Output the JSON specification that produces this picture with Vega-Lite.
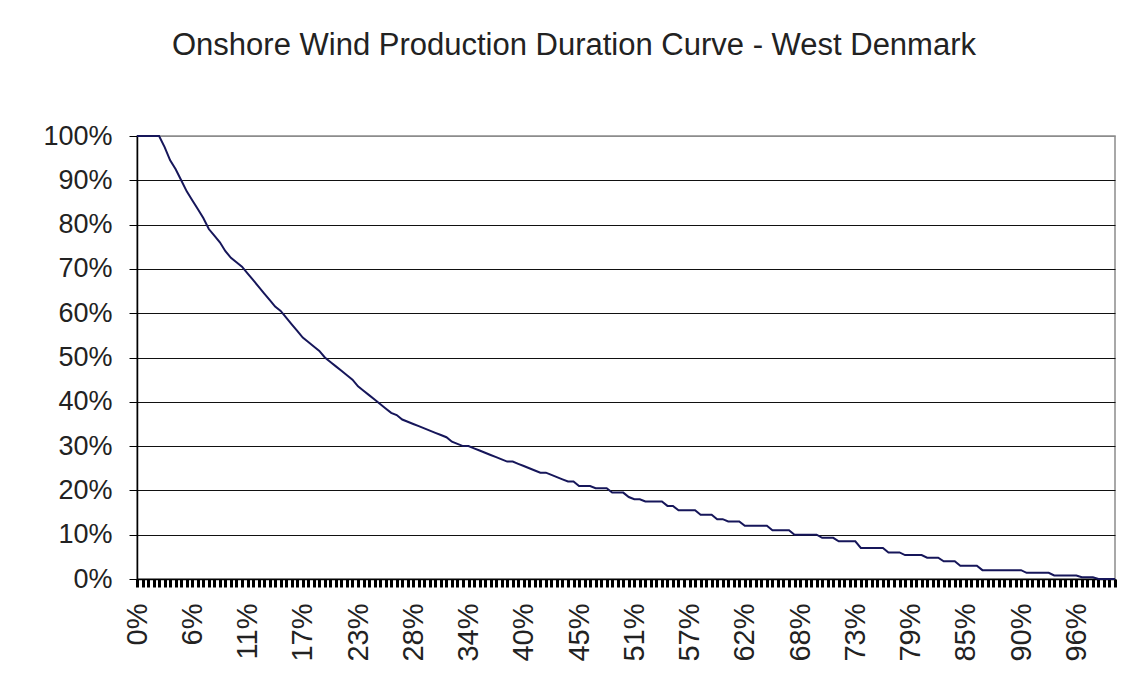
{
  "$schema": "https://vega.github.io/schema/vega-lite/v6.json",
  "width": 978,
  "height": 443,
  "autosize": {"type": "none"},
  "padding": {"left": 137, "top": 136, "right": 21, "bottom": 118},
  "background": "white",
  "title": {
    "text": "Onshore Wind Production Duration Curve - West Denmark",
    "font": "Liberation Sans",
    "fontSize": 31,
    "fontWeight": "normal",
    "color": "#222222",
    "anchor": "middle",
    "frame": "group",
    "baseline": "middle",
    "offset": 45,
    "dx": -52
  },
  "config": {
    "view": {"stroke": "#8c8c8c", "strokeWidth": 1.5},
    "axis": {"labelFont": "Liberation Sans", "labelColor": "#222222"}
  },
  "data": {"values": [
    {"x": 0, "y": 100}, {"x": 0.57, "y": 100}, {"x": 1.13, "y": 100}, {"x": 1.70, "y": 100}, {"x": 2.26, "y": 100},
    {"x": 2.83, "y": 97.5}, {"x": 3.39, "y": 94.5}, {"x": 3.96, "y": 92.5}, {"x": 4.52, "y": 90}, {"x": 5.09, "y": 87.5},
    {"x": 5.65, "y": 85.5}, {"x": 6.22, "y": 83.5}, {"x": 6.78, "y": 81.5}, {"x": 7.35, "y": 79}, {"x": 7.91, "y": 77.5},
    {"x": 8.48, "y": 76}, {"x": 9.04, "y": 74}, {"x": 9.61, "y": 72.5}, {"x": 10.17, "y": 71.5}, {"x": 10.74, "y": 70.5},
    {"x": 11.30, "y": 69}, {"x": 11.87, "y": 67.5}, {"x": 12.43, "y": 66}, {"x": 13.00, "y": 64.5}, {"x": 13.56, "y": 63},
    {"x": 14.13, "y": 61.5}, {"x": 14.70, "y": 60.5}, {"x": 15.26, "y": 59}, {"x": 15.83, "y": 57.5}, {"x": 16.39, "y": 56},
    {"x": 16.96, "y": 54.5}, {"x": 17.52, "y": 53.5}, {"x": 18.09, "y": 52.5}, {"x": 18.65, "y": 51.5}, {"x": 19.22, "y": 50},
    {"x": 19.78, "y": 49}, {"x": 20.35, "y": 48}, {"x": 20.91, "y": 47}, {"x": 21.48, "y": 46}, {"x": 22.04, "y": 45},
    {"x": 22.61, "y": 43.5}, {"x": 23.17, "y": 42.5}, {"x": 23.74, "y": 41.5}, {"x": 24.30, "y": 40.5}, {"x": 24.87, "y": 39.5},
    {"x": 25.43, "y": 38.5}, {"x": 26.00, "y": 37.5}, {"x": 26.56, "y": 37}, {"x": 27.13, "y": 36}, {"x": 27.69, "y": 35.5},
    {"x": 28.26, "y": 35}, {"x": 28.83, "y": 34.5}, {"x": 29.39, "y": 34}, {"x": 29.96, "y": 33.5}, {"x": 30.52, "y": 33},
    {"x": 31.09, "y": 32.5}, {"x": 31.65, "y": 32}, {"x": 32.22, "y": 31}, {"x": 32.78, "y": 30.5}, {"x": 33.35, "y": 30},
    {"x": 33.91, "y": 30}, {"x": 34.48, "y": 29.5}, {"x": 35.04, "y": 29}, {"x": 35.61, "y": 28.5}, {"x": 36.17, "y": 28},
    {"x": 36.74, "y": 27.5}, {"x": 37.30, "y": 27}, {"x": 37.87, "y": 26.5}, {"x": 38.43, "y": 26.5}, {"x": 39.00, "y": 26},
    {"x": 39.56, "y": 25.5}, {"x": 40.13, "y": 25}, {"x": 40.69, "y": 24.5}, {"x": 41.26, "y": 24}, {"x": 41.82, "y": 24},
    {"x": 42.39, "y": 23.5}, {"x": 42.96, "y": 23}, {"x": 43.52, "y": 22.5}, {"x": 44.09, "y": 22}, {"x": 44.65, "y": 22},
    {"x": 45.22, "y": 21}, {"x": 45.78, "y": 21}, {"x": 46.35, "y": 21}, {"x": 46.91, "y": 20.5}, {"x": 47.48, "y": 20.5},
    {"x": 48.04, "y": 20.5}, {"x": 48.61, "y": 19.5}, {"x": 49.17, "y": 19.5}, {"x": 49.74, "y": 19.5}, {"x": 50.30, "y": 18.5},
    {"x": 50.87, "y": 18}, {"x": 51.43, "y": 18}, {"x": 52.00, "y": 17.5}, {"x": 52.56, "y": 17.5}, {"x": 53.13, "y": 17.5},
    {"x": 53.69, "y": 17.5}, {"x": 54.26, "y": 16.5}, {"x": 54.82, "y": 16.5}, {"x": 55.39, "y": 15.5}, {"x": 55.95, "y": 15.5},
    {"x": 56.52, "y": 15.5}, {"x": 57.09, "y": 15.5}, {"x": 57.65, "y": 14.5}, {"x": 58.22, "y": 14.5}, {"x": 58.78, "y": 14.5},
    {"x": 59.35, "y": 13.5}, {"x": 59.91, "y": 13.5}, {"x": 60.48, "y": 13}, {"x": 61.04, "y": 13}, {"x": 61.61, "y": 13},
    {"x": 62.17, "y": 12}, {"x": 62.74, "y": 12}, {"x": 63.30, "y": 12}, {"x": 63.87, "y": 12}, {"x": 64.43, "y": 12},
    {"x": 65.00, "y": 11}, {"x": 65.56, "y": 11}, {"x": 66.13, "y": 11}, {"x": 66.69, "y": 11}, {"x": 67.26, "y": 10},
    {"x": 67.82, "y": 10}, {"x": 68.39, "y": 10}, {"x": 68.95, "y": 10}, {"x": 69.52, "y": 10}, {"x": 70.08, "y": 9.3},
    {"x": 70.65, "y": 9.3}, {"x": 71.22, "y": 9.3}, {"x": 71.78, "y": 8.5}, {"x": 72.35, "y": 8.5}, {"x": 72.91, "y": 8.5},
    {"x": 73.48, "y": 8.5}, {"x": 74.04, "y": 7}, {"x": 74.61, "y": 7}, {"x": 75.17, "y": 7}, {"x": 75.74, "y": 7},
    {"x": 76.30, "y": 7}, {"x": 76.87, "y": 6}, {"x": 77.43, "y": 6}, {"x": 78.00, "y": 6}, {"x": 78.56, "y": 5.4},
    {"x": 79.13, "y": 5.4}, {"x": 79.69, "y": 5.4}, {"x": 80.26, "y": 5.4}, {"x": 80.82, "y": 4.8}, {"x": 81.39, "y": 4.8},
    {"x": 81.95, "y": 4.8}, {"x": 82.52, "y": 4}, {"x": 83.08, "y": 4}, {"x": 83.65, "y": 4}, {"x": 84.21, "y": 3},
    {"x": 84.78, "y": 3}, {"x": 85.35, "y": 3}, {"x": 85.91, "y": 3}, {"x": 86.48, "y": 2}, {"x": 87.04, "y": 2},
    {"x": 87.61, "y": 2}, {"x": 88.17, "y": 2}, {"x": 88.74, "y": 2}, {"x": 89.30, "y": 2}, {"x": 89.87, "y": 2},
    {"x": 90.43, "y": 2}, {"x": 91.00, "y": 1.4}, {"x": 91.56, "y": 1.4}, {"x": 92.13, "y": 1.4}, {"x": 92.69, "y": 1.4},
    {"x": 93.26, "y": 1.4}, {"x": 93.82, "y": 0.8}, {"x": 94.39, "y": 0.8}, {"x": 94.95, "y": 0.8}, {"x": 95.52, "y": 0.8},
    {"x": 96.08, "y": 0.8}, {"x": 96.65, "y": 0.4}, {"x": 97.21, "y": 0.4}, {"x": 97.78, "y": 0.4}, {"x": 98.34, "y": 0},
    {"x": 98.91, "y": 0}, {"x": 99.47, "y": 0}, {"x": 100.04, "y": 0}
  ]},
  "mark": {"type": "line", "color": "#16165a", "strokeWidth": 2, "interpolate": "linear"},
  "encoding": {
    "x": {
      "field": "x",
      "type": "ordinal",
      "sort": "ascending",
      "scale": {"type": "point", "padding": 0},
      "axis": {
        "title": null,
        "labelAngle": -90,
        "labelAlign": "right",
        "labelBaseline": "middle",
        "labelOverlap": false,
        "labelFontSize": 29,
        "labelPadding": 16,
        "labelExpr": "abs(datum.value/5.652 - round(datum.value/5.652)) < 0.02 ? round(datum.value) + '%' : ''",
        "tickSize": 8,
        "tickWidth": 3,
        "tickColor": "#000000",
        "domainColor": "#000000",
        "domainWidth": 1.5,
        "grid": false
      }
    },
    "y": {
      "field": "y",
      "type": "quantitative",
      "scale": {"domain": [0, 100], "nice": false},
      "axis": {
        "title": null,
        "values": [0, 10, 20, 30, 40, 50, 60, 70, 80, 90, 100],
        "labelExpr": "datum.value + '%'",
        "labelFontSize": 27,
        "labelPadding": 17,
        "tickSize": 8,
        "tickColor": "#000000",
        "domainColor": "#000000",
        "domainWidth": 1.5,
        "grid": true,
        "gridColor": {"condition": {"test": "datum.value == 100", "value": "#8c8c8c"}, "value": "#111111"},
        "gridWidth": 1.2,
        "gridOpacity": 1
      }
    }
  }
}
